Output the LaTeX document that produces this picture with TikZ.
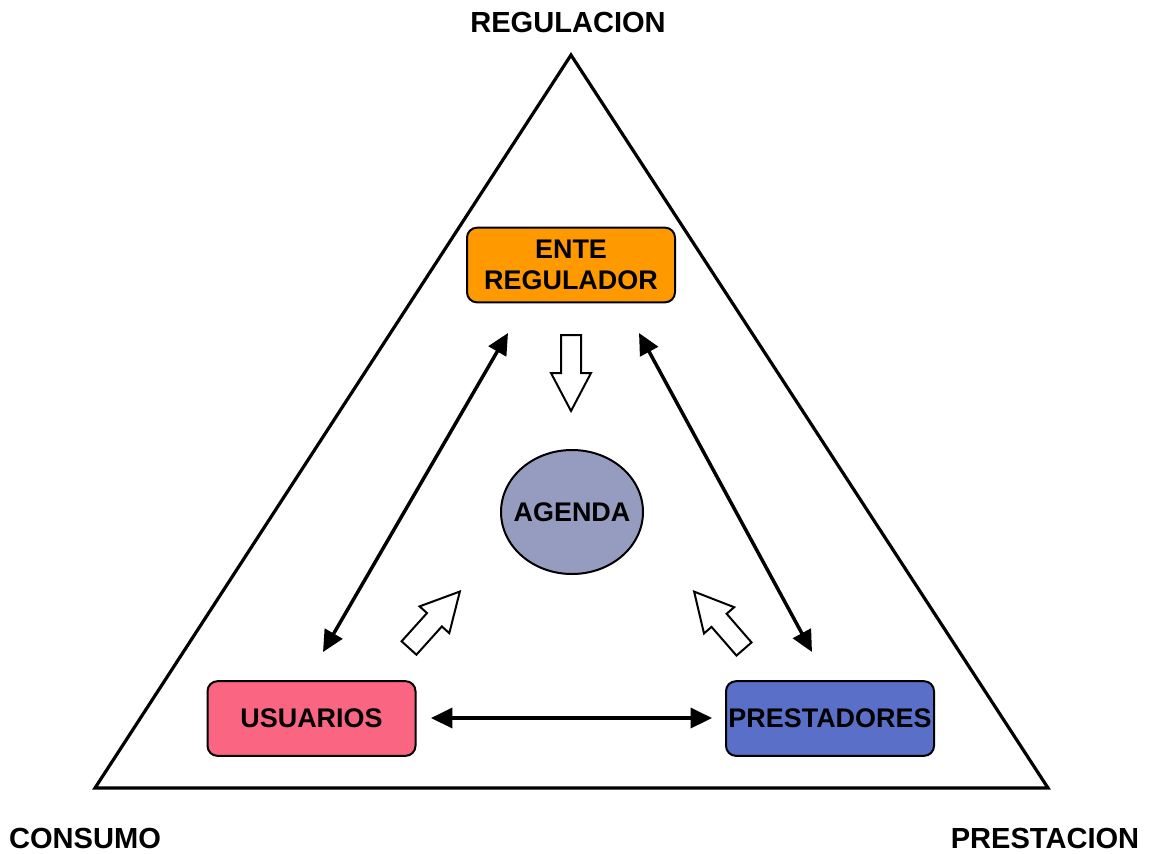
\documentclass[tikz,border=0pt]{standalone}
\usepackage{fontspec}
\setmainfont{Liberation Sans}
\usetikzlibrary{arrows.meta, positioning, calc, shapes.geometric}
\definecolor{enteorange}{HTML}{FF9900}
\definecolor{usuariopink}{HTML}{FA6682}
\definecolor{prestblue}{HTML}{5A70C8}
\definecolor{agendagray}{HTML}{969CC0}
\tikzstyle{actor} = [draw,line width=1.5pt,rounded corners=7.5pt,minimum width=156pt,minimum height=56pt,align=center,font=\fontsize{20.2}{23.5}\selectfont\bfseries,inner sep=0pt]
\tikzstyle{corner} = [font=\fontsize{21.8}{24}\selectfont\bfseries]
\tikzstyle{link} = [line width=2.6pt,{Triangle[length=16pt,width=15pt]}-{Triangle[length=16pt,width=15pt]}]
\tikzset{hollow/.pic={
  \draw[line width=1.5pt,fill=white,line join=miter]
    (0,-10) -- (38,-10) -- (38,-20) -- (76,0) -- (38,20) -- (38,10) -- (0,10) -- cycle;
}}

\begin{document}
\begin{tikzpicture}[x=0.75pt,y=-0.75pt]
    \useasboundingbox (0,0) rectangle (1155,853);
    % triangle
    \coordinate (reg) at (571,55);
    \coordinate (con) at (95,788);
    \coordinate (pre) at (1048,788);
    \draw[line width=2.4pt,line join=miter] (reg) -- (con) -- (pre) -- cycle;
    \node[corner] (l_reg) at (568,22) {REGULACION};
    \node[corner] (l_con) at (85,838) {CONSUMO};
    \node[corner] (l_pre) at (1045,838) {PRESTACION};
    % actors
    \node[actor,fill=enteorange] (ente) at (571,265) {ENTE\\REGULADOR};
    \node[actor,fill=usuariopink] (usuarios) at (311.5,718.5) {USUARIOS};
    \node[actor,fill=prestblue] (prestadores) at (830,718.5) {PRESTADORES};
    \node[draw,ellipse,line width=1.5pt,fill=agendagray,minimum width=106.5pt,minimum height=93pt,inner sep=0pt,font=\fontsize{20.2}{22}\selectfont\bfseries] (agenda) at (572,512) {\makebox[0pt]{AGENDA}};
    % links
    \coordinate (ente_l) at (508,333);
    \coordinate (ente_r) at (639,333);
    \coordinate (usu_t) at (323,652);
    \coordinate (usu_r) at (431,718);
    \coordinate (pre_t) at (812,652);
    \coordinate (pre_l) at (712,718);
    \draw[link] (usu_t) -- (ente_l);
    \draw[link] (ente_r) -- (pre_t);
    \draw[link] (usu_r) -- (pre_l);
    % hollow arrows towards the agenda
    \pic[rotate=-90] at (571,335) {hollow};
    \pic[rotate=48] at (409,648) {hollow};
    \pic[rotate=131] at (744,649) {hollow};
\end{tikzpicture}
\end{document}
